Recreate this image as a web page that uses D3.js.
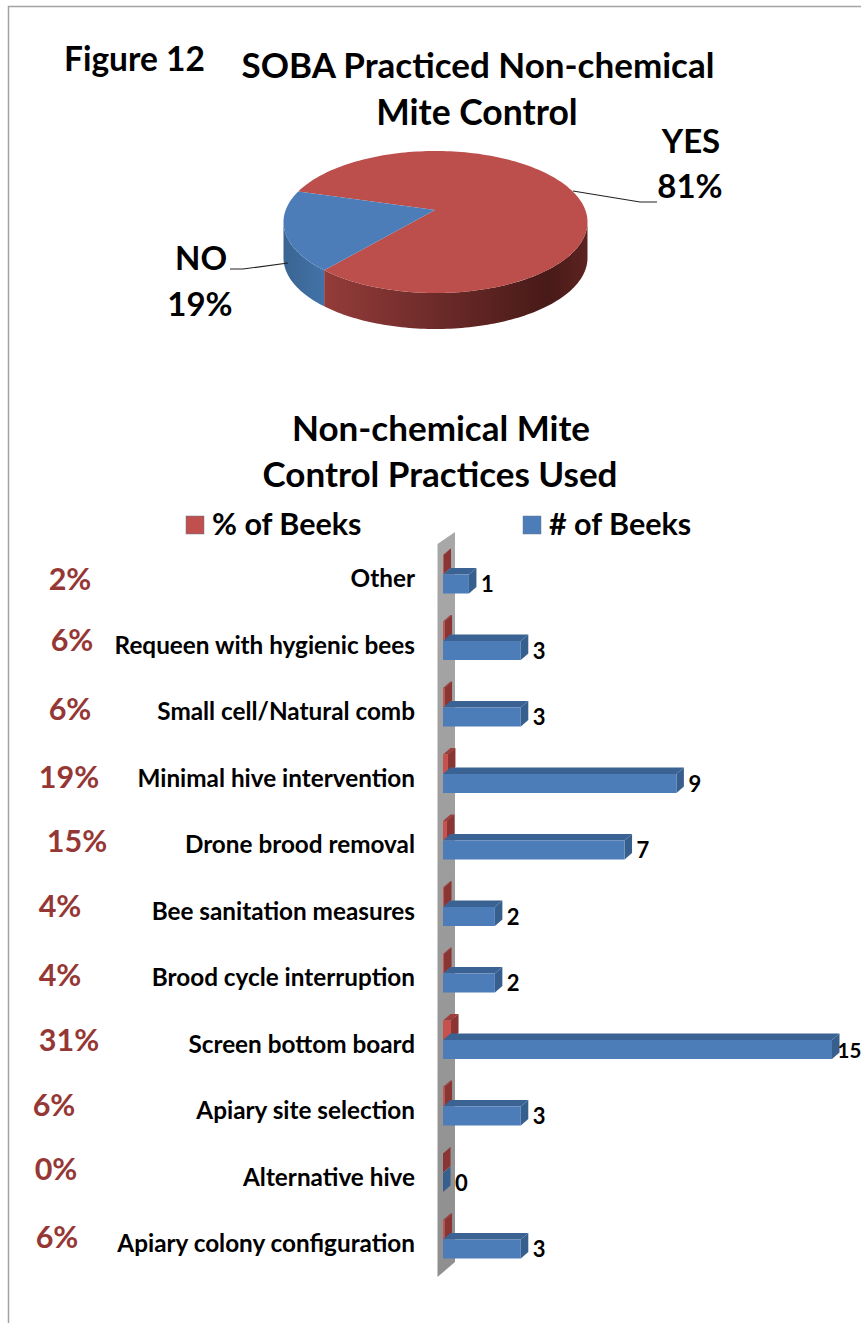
<!DOCTYPE html>
<html>
<head>
<meta charset="utf-8">
<script src="https://cdnjs.cloudflare.com/ajax/libs/d3/7.8.5/d3.min.js"></script>
<style>
  html, body { margin: 0; padding: 0; background: #fff; }
  svg { display: block; }
  text { font-family: Lato, "Open Sans", sans-serif; font-weight: 700; fill: #000; }
</style>
</head>
<body>
<div id="plot"></div>
<script>
// pie data
const pieLabels = ['YES', 'NO']
const pieValues = [81, 19]

// bar data, top to bottom
const categories = ['Other', 'Requeen with hygienic bees', 'Small cell/Natural comb',
  'Minimal hive intervention', 'Drone brood removal', 'Bee sanitation measures',
  'Brood cycle interruption', 'Screen bottom board', 'Apiary site selection',
  'Alternative hive', 'Apiary colony configuration']
const beekCounts = [1, 3, 3, 9, 7, 2, 2, 15, 3, 0, 3]
const beekShares = [0.02, 0.06, 0.06, 0.19, 0.15, 0.04, 0.04, 0.31, 0.06, 0, 0.06]
const legendNames = ['% of Beeks', '# of Beeks']

// the percent labels were placed by hand in the original, they don't line up
const shareLabelX = [70, 72, 70, 69, 77, 60, 60, 69, 54, 56, 57]
const shareLabelY = [590, 651, 720, 788, 852, 917, 986, 1051, 1116, 1180, 1248]

const width = 861
const height = 1323

const svg = d3.select('#plot').append('svg')
  .attr('width', width)
  .attr('height', height)
const defs = svg.append('defs')

function gradient(id, stops, x2 = 1, y2 = 0) {
  const g = defs.append('linearGradient').attr('id', id)
    .attr('x1', 0).attr('y1', 0).attr('x2', x2).attr('y2', y2)
  stops.forEach(s => g.append('stop').attr('offset', s[0]).attr('stop-color', s[1]))
}
gradient('redSide', [[0, '#943c3a'], [0.45, '#6a2a28'], [0.85, '#481a18'], [1, '#5c2321']])
gradient('blueSide', [[0, '#3a6592'], [1, '#4272a8']])
gradient('wall', [[0, '#a8a8a8'], [1, '#8f8f8f']], 0, 1)

//frame
svg.append('path')
  .attr('d', `M8.5,${height}V6.5H${width}`)
  .attr('fill', 'none')
  .attr('stroke', '#a3a3a3')
  .attr('stroke-width', 1.5)

function label(txt, x, y, size, anchor = 'middle', fill = '#000') {
  return svg.append('text')
    .attr('x', x).attr('y', y)
    .attr('text-anchor', anchor)
    .attr('font-size', size)
    .style('fill', fill)
    .text(txt)
}

label('Figure 12', 64, 71, 33.5, 'start')
label('SOBA Practiced Non-chemical', 478, 78, 35)
label('Mite Control', 477, 125, 35.5)

//PIE
const cx = 435.5, cy = 222, rx = 152, ry = 71, depth = 36
const apex = [435, 210]
const pieGroup = svg.append('g')
const two = 2 * Math.PI
const start = 295.5 * Math.PI / 180
const slices = d3.pie().sort(null).startAngle(start).endAngle(start + two)(pieValues)

const onRim = (a, dy = 0) => [cx + rx * Math.sin(a), cy - ry * Math.cos(a) + dy]
const line = d3.line()

function arcPoints(a0, a1, dy = 0) {
  const n = Math.max(2, Math.ceil(Math.abs(a1 - a0) * 40))
  return d3.range(n + 1).map(i => onRim(a0 + (a1 - a0) * i / n, dy))
}

// outer wall only shows between 90 and 270 degrees
function sidePath(a0, a1) {
  const from = Math.max(a0, Math.PI / 2)
  const to = Math.min(a1, 3 * Math.PI / 2)
  return line(arcPoints(from, to).concat(arcPoints(to, from, depth))) + 'Z'
}

const yes = slices[0], no = slices[1]
pieGroup.append('path')
  .attr('d', sidePath(Math.PI / 2, yes.endAngle - two))
  .attr('fill', 'url(#redSide)')
pieGroup.append('path')
  .attr('d', sidePath(no.startAngle - two, no.endAngle - two))
  .attr('fill', 'url(#blueSide)')
pieGroup.append('path')
  .attr('d', line(arcPoints(yes.startAngle, yes.endAngle).concat([apex])) + 'Z')
  .attr('fill', '#bc4f4c')
pieGroup.append('path')
  .attr('d', line(arcPoints(no.startAngle, no.endAngle).concat([apex])) + 'Z')
  .attr('fill', '#4c7db9')

const leaderYes = [[573, 191], [640, 202], [657, 202]]
const leaderNo = [[288, 263], [243, 269], [230, 269]]
;[leaderYes, leaderNo].forEach(l => svg.append('path')
  .attr('d', line(l))
  .attr('fill', 'none')
  .attr('stroke', '#222')
  .attr('stroke-width', 1.2))

label(pieLabels[0], 691, 153, 33)
label(pieValues[0] + '%', 690, 198, 33)
label(pieLabels[1], 201, 270, 33)
label(pieValues[1] + '%', 200, 316, 33)

//BARS
label('Non-chemical Mite', 441, 441, 35)
label('Control Practices Used', 440, 487, 35)

const xScale = d3.scaleLinear().domain([0, 15]).range([443, 832])
const yScale = d3.scaleBand().domain(categories).range([545, 545 + 66.5 * 11])

// back wall
const wallPts = [[437.5, 544], [455, 532], [455, 1262], [437.5, 1277]]
svg.append('path')
  .attr('d', line(wallPts) + 'Z')
  .attr('fill', 'url(#wall)')

const barH = 19
const depthX = 7.5
const depthY = 6.5

function bar3d(sel, values, top, colors) {
  const g = sel.selectAll('g').data(categories).join('g')
  const x0 = xScale(0)
  g.append('path') // top face
    .attr('d', (d, i) => {
      const y = yScale(d) + top, x1 = xScale(values[i])
      return line([[x0, y], [x0 + depthX, y - depthY], [x1 + depthX, y - depthY], [x1, y]]) + 'Z'
    })
    .attr('fill', colors.top)
  g.append('path') // end face
    .attr('d', (d, i) => {
      const y = yScale(d) + top, x1 = xScale(values[i])
      return line([[x1, y], [x1 + depthX, y - depthY], [x1 + depthX, y - depthY + barH], [x1, y + barH]]) + 'Z'
    })
    .attr('fill', colors.side)
  g.append('rect') // front
    .attr('x', x0)
    .attr('y', d => yScale(d) + top)
    .attr('width', (d, i) => xScale(values[i]) - x0)
    .attr('height', barH)
    .attr('fill', colors.front)
}

bar3d(svg.append('g'), beekShares, 10, { front: '#c8504d', side: '#8a3533', top: '#9c3e3b' })
bar3d(svg.append('g'), beekCounts, 29.5, { front: '#4c7db9', side: '#375f8e', top: '#3a6394' })

// category labels
const yaxis = svg.append('g')
  .attr('transform', 'translate(415,1)')
  .call(d3.axisLeft(yScale).tickSize(0).tickPadding(0))
yaxis.select('.domain').remove()
yaxis.selectAll('.tick text')
  .style('font-family', 'Lato, sans-serif')
  .style('font-weight', 700)
  .attr('font-size', 24.3)
  .style('fill', '#000')

// count labels, 15 sits tight against the bar because it runs out of room
svg.append('g').selectAll('text').data(beekCounts).join('text')
  .attr('x', d => xScale(d) + (d === 15 ? 5.5 : 12))
  .attr('y', (d, i) => yScale(categories[i]) + 47)
  .attr('font-size', d => d === 15 ? 20.5 : 22)
  .text(d => d)

// percent labels
svg.append('g').selectAll('text').data(beekShares).join('text')
  .attr('x', (d, i) => shareLabelX[i])
  .attr('y', (d, i) => shareLabelY[i])
  .attr('text-anchor', 'middle')
  .attr('font-size', 30.5)
  .style('fill', '#953735')
  .text(d => Math.round(d * 100) + '%')

//LEGEND
const legendColors = ['#c0504d', '#4c7db9']
const legendX = d3.scaleOrdinal().domain(legendNames).range([186, 523])
const legend = svg.append('g').selectAll('g').data(legendNames).join('g')
  .attr('transform', d => `translate(${legendX(d)},516)`)
legend.append('rect')
  .attr('width', 18).attr('height', 18)
  .attr('fill', (d, i) => legendColors[i])
  .attr('stroke', '#6b7a8a').attr('stroke-width', 0.5)
legend.append('text')
  .attr('x', 26)
  .attr('y', 18.5)
  .attr('font-size', 30.5)
  .text(d => d)
</script>
</body>
</html>
